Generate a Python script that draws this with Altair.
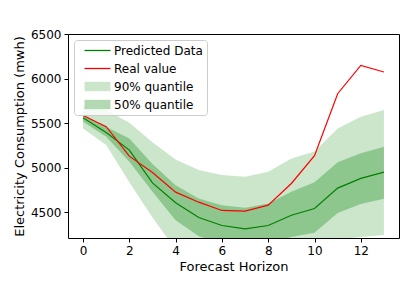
import altair as alt
import pandas as pd

horizon = list(range(14))
predicted = [5560, 5395, 5197, 4829, 4605, 4440, 4350, 4312, 4350, 4466, 4541, 4770, 4879, 4950]
real = [5585, 5460, 5129, 4946, 4725, 4612, 4519, 4511, 4579, 4822, 5135, 5830, 6148, 6073]
q90_low = [5440, 5253, 4835, 4440, 4080, 3950, 3900, 3880, 3900, 3950, 4120, 4190, 4222, 4245]
q90_high = [5700, 5646, 5505, 5285, 5092, 4972, 4916, 4897, 4953, 5103, 5180, 5440, 5571, 5646]
q50_low = [5515, 5346, 5065, 4728, 4410, 4230, 4150, 4120, 4150, 4220, 4268, 4492, 4592, 4650]
q50_high = [5595, 5458, 5328, 5040, 4803, 4654, 4579, 4549, 4598, 4728, 4835, 5060, 5160, 5234]

series_names = ["Predicted Data", "Real value", "90% quantile", "50% quantile"]
series_colors = ["green", "red", "#cce6cc", "#b2d9b2"]
line_shape = "M-2,-0.1H2V0.1H-2Z"
rect_shape = "M-2,-0.72H2V0.72H-2Z"

df = pd.DataFrame({
    "h": horizon, "pred": predicted, "real": real,
    "lo90": q90_low, "hi90": q90_high, "lo50": q50_low, "hi50": q50_high,
})
leg_df = pd.DataFrame({"series": series_names, "h": [0] * 4, "v": [5000] * 4})

xs = alt.Scale(domain=[-0.65, 13.65], nice=False, zero=False)
ys = alt.Scale(domain=[4210, 6500], nice=False, zero=False)

xax = alt.Axis(values=[0, 2, 4, 6, 8, 10, 12], title="Forecast Horizon", grid=False)
yax = alt.Axis(values=[4500, 5000, 5500, 6000, 6500], format="d",
               title="Electricity Consumption (mwh)", grid=False)

base = alt.Chart(df)

area90 = base.mark_area(color="green", opacity=0.2, clip=True).encode(
    x=alt.X("h:Q", scale=xs, axis=xax), y=alt.Y("lo90:Q", scale=ys, axis=yax), y2="hi90:Q")
area50 = base.mark_area(color="green", opacity=0.3, clip=True).encode(
    x=alt.X("h:Q", scale=xs), y=alt.Y("lo50:Q", scale=ys), y2="hi50:Q")
line_pred = base.mark_line(color="green", strokeWidth=1.2, clip=True).encode(
    x=alt.X("h:Q", scale=xs), y=alt.Y("pred:Q", scale=ys))
line_real = base.mark_line(color="red", strokeWidth=1.2, clip=True).encode(
    x=alt.X("h:Q", scale=xs), y=alt.Y("real:Q", scale=ys))

legend_layer = alt.Chart(leg_df).transform_filter("false").mark_point(
    filled=True, opacity=1, strokeWidth=0).encode(
    x=alt.X("h:Q", scale=xs), y=alt.Y("v:Q", scale=ys),
    color=alt.Color("series:N", scale=alt.Scale(domain=series_names, range=series_colors),
                    legend=alt.Legend(title=None, orient="none", legendX=6, legendY=6,
                                      symbolSize=169, labelFontSize=12, labelFont="DejaVu Sans",
                                      labelColor="black", padding=4, rowPadding=5,
                                      symbolOffset=13, labelOffset=10,
                                      strokeColor="#cccccc", fillColor="rgba(255,255,255,0.8)",
                                      cornerRadius=3, symbolStrokeWidth=0)),
    shape=alt.Shape("series:N", scale=alt.Scale(domain=series_names,
                                                range=[line_shape, line_shape, rect_shape, rect_shape]),
                    legend=alt.Legend(title=None, orient="none", legendX=6, legendY=6)),
)

chart = alt.layer(area90, area50, line_pred, line_real, legend_layer).properties(
    width=331, height=204,
    autosize=alt.AutoSizeParams(type="none"),
    padding={"left": 60, "top": 26, "right": 8, "bottom": 45},
).configure_view(stroke="black", strokeWidth=1).configure_axis(
    domain=False, tickColor="black", tickSize=4, labelFontSize=12, titleFontSize=13,
    labelFont="DejaVu Sans", titleFont="DejaVu Sans", labelColor="black", titleColor="black",
    titleFontWeight="normal", labelPadding=3,
)

chart.save("out.html", embed_options={"renderer": "svg", "actions": False})
